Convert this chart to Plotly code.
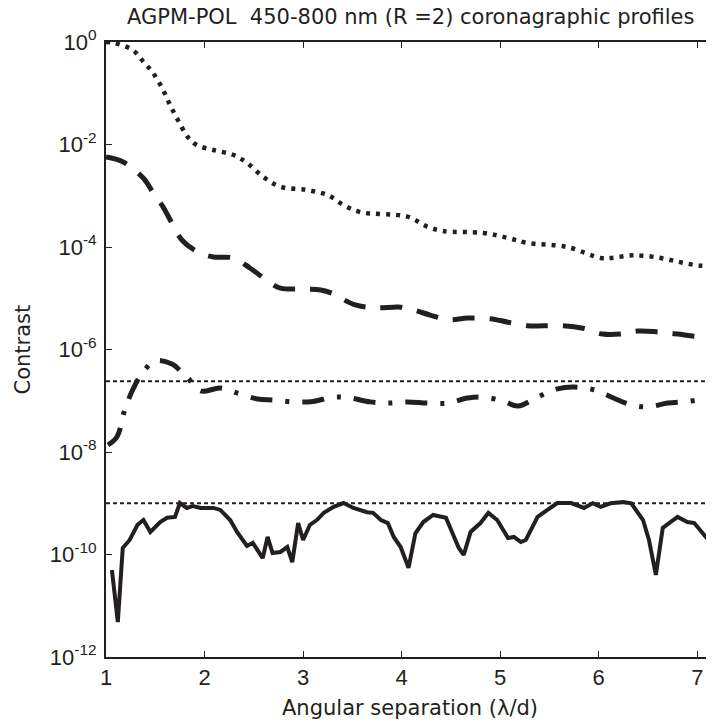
import plotly.graph_objects as go

# ---------------- data ----------------
x_dotted = [1.0, 1.07, 1.27, 1.38, 1.47, 1.57, 1.65, 1.73, 1.83, 1.92, 2.09, 2.29, 2.43,
            2.60, 2.77, 3.04, 3.25, 3.41, 3.58, 4.06, 4.26, 4.42, 4.83, 5.08, 5.28, 5.68,
            6.02, 6.12, 6.36, 6.63, 6.84, 7.04, 7.2]
y_dotted = [1.0, 0.97, 0.70, 0.41, 0.26, 0.126, 0.059, 0.030, 0.014, 0.0098, 0.0078, 0.0063,
            0.0044, 0.0023, 0.0015, 0.0013, 0.00103, 0.00066, 0.00048, 0.00039, 0.00025,
            0.000205, 0.000188, 0.00015, 0.00012, 0.0001, 6.1e-5, 6.1e-5, 6.9e-5, 6.1e-5,
            5.0e-5, 4.3e-5, 4.4e-5]

x_dashed = [1.0, 1.17, 1.38, 1.48, 1.58, 1.67, 1.77, 1.93, 2.09, 2.29, 2.46, 2.64, 2.77,
            3.00, 3.18, 3.31, 3.38, 3.53, 3.65, 3.75, 3.92, 3.99, 4.12, 4.29, 4.47, 4.67,
            4.90, 5.08, 5.28, 5.44, 5.64, 5.84, 6.04, 6.22, 6.40, 6.60, 6.80, 7.0, 7.2]
y_dashed = [5.7e-3, 4.6e-3, 2.2e-3, 1.13e-3, 6.0e-4, 2.9e-4, 1.37e-4, 8.0e-5, 6.4e-5, 6.1e-5,
            3.9e-5, 2.17e-5, 1.58e-5, 1.51e-5, 1.45e-5, 1.21e-5, 1.01e-5, 7.4e-6, 6.7e-6,
            6.5e-6, 6.7e-6, 6.7e-6, 5.9e-6, 4.7e-6, 3.8e-6, 4.1e-6, 4.0e-6, 3.4e-6, 2.9e-6,
            2.9e-6, 2.9e-6, 2.6e-6, 2.0e-6, 2.0e-6, 2.3e-6, 2.2e-6, 2.0e-6, 1.8e-6, 1.9e-6]

x_dashdot = [1.02, 1.11, 1.19, 1.27, 1.37, 1.50, 1.67, 1.77, 1.83, 1.96, 2.16, 2.33, 2.54,
             2.70, 2.90, 3.10, 3.31, 3.48, 3.68, 3.86, 4.06, 4.26, 4.47, 4.67, 4.83, 5.04,
             5.18, 5.38, 5.58, 5.75, 5.95, 6.15, 6.33, 6.50, 6.70, 6.90, 7.09, 7.2]
y_dashdot = [1.37e-8, 1.96e-8, 6.6e-8, 1.62e-7, 3.5e-7, 6.0e-7, 5.2e-7, 3.6e-7, 2.8e-7,
             1.55e-7, 1.77e-7, 1.42e-7, 1.08e-7, 1.03e-7, 9.5e-8, 9.7e-8, 1.18e-7, 1.13e-7,
             9.5e-8, 9.0e-8, 9.5e-8, 9.0e-8, 9.0e-8, 1.13e-7, 1.18e-7, 9.7e-8, 7.9e-8,
             1.18e-7, 1.7e-7, 1.85e-7, 1.64e-7, 1.13e-7, 8.3e-8, 7.6e-8, 9.0e-8, 9.7e-8,
             1.08e-7, 1.1e-7]

x_solid = [1.06, 1.12, 1.17, 1.24, 1.32, 1.38, 1.45, 1.55, 1.62, 1.70, 1.75, 1.82, 1.88,
           1.96, 2.09, 2.16, 2.26, 2.33, 2.43, 2.49, 2.59, 2.64, 2.69, 2.77, 2.84, 2.89,
           2.95, 3.00, 3.07, 3.14, 3.21, 3.31, 3.41, 3.51, 3.65, 3.71, 3.79, 3.86, 3.92,
           3.99, 4.07, 4.14, 4.22, 4.32, 4.45, 4.53, 4.58, 4.63, 4.70, 4.80, 4.88, 4.97,
           5.08, 5.14, 5.21, 5.26, 5.38, 5.48, 5.58, 5.72, 5.85, 5.94, 6.02, 6.12, 6.25,
           6.33, 6.45, 6.51, 6.58, 6.65, 6.80, 6.90, 6.97, 7.07, 7.2]
y_solid = [5.0e-11, 4.8e-12, 1.34e-10, 1.92e-10, 3.8e-10, 4.7e-10, 2.75e-10, 4.3e-10,
           5.2e-10, 5.4e-10, 1.01e-9, 8.1e-10, 8.8e-10, 8.1e-10, 8.1e-10, 7.4e-10, 4.7e-10,
           2.75e-10, 1.47e-10, 1.68e-10, 8.5e-11, 2.2e-10, 1.07e-10, 1.12e-10, 1.4e-10,
           7.1e-11, 4.1e-10, 1.92e-10, 3.8e-10, 4.7e-10, 6.5e-10, 8.5e-10, 1.01e-9, 8.1e-10,
           6.7e-10, 6.5e-10, 4.7e-10, 4.1e-10, 2.2e-10, 1.4e-10, 5.5e-11, 2.6e-10, 4.3e-10,
           5.9e-10, 5.2e-10, 2.2e-10, 1.34e-10, 9.8e-11, 2.75e-10, 4.1e-10, 6.5e-10, 4.7e-10,
           2.1e-10, 2.2e-10, 1.75e-10, 1.92e-10, 5.4e-10, 7.4e-10, 1.01e-9, 1.01e-9, 8.1e-10,
           1.0e-9, 8.5e-10, 1.0e-9, 1.06e-9, 1.0e-9, 4.7e-10, 1.92e-10, 4.0e-11, 3.3e-10,
           5.4e-10, 4.3e-10, 4.1e-10, 2.4e-10, 1.2e-10]

x_limits = [1.0, 7.2]
limit_upper = 2.4e-7
limit_lower = 1.0e-9

y_tickvals = [1e0, 1e-2, 1e-4, 1e-6, 1e-8, 1e-10, 1e-12]
y_ticktext = ["10<sup>0</sup>", "10<sup>-2</sup>", "10<sup>-4</sup>", "10<sup>-6</sup>",
              "10<sup>-8</sup>", "10<sup>-10</sup>", "10<sup>-12</sup>"]
x_tickvals = [1, 2, 3, 4, 5, 6, 7]

title_text = "AGPM-POL  450-800 nm (R =2) coronagraphic profiles"
x_title = "Angular separation (λ/d)"
y_title = "Contrast"

# ---------------- figure ----------------
ink = "#231f20"
text_font = "DejaVu Sans, Liberation Sans, sans-serif"
tick_font = "Liberation Sans, Arial, sans-serif"

fig = go.Figure()

fig.add_trace(go.Scatter(x=x_limits, y=[limit_upper, limit_upper], mode="lines",
                         line=dict(color=ink, width=2, dash="4px,3px"), showlegend=False))
fig.add_trace(go.Scatter(x=x_limits, y=[limit_lower, limit_lower], mode="lines",
                         line=dict(color=ink, width=2, dash="4px,3px"), showlegend=False))
fig.add_trace(go.Scatter(x=x_dotted, y=y_dotted, mode="lines", line_shape="spline",
                         line=dict(color=ink, width=4.5, dash="4px,6px"), showlegend=False))
fig.add_trace(go.Scatter(x=x_dashed, y=y_dashed, mode="lines", line_shape="spline",
                         line=dict(color=ink, width=5, dash="22px,15px"), showlegend=False))
fig.add_trace(go.Scatter(x=x_dashdot, y=y_dashdot, mode="lines", line_shape="spline",
                         line=dict(color=ink, width=5, dash="22px,13px,4px,13px"), showlegend=False))
fig.add_trace(go.Scatter(x=x_solid, y=y_solid, mode="lines",
                         line=dict(color=ink, width=4), showlegend=False))

fig.update_layout(
    width=706, height=714,
    margin=dict(l=98, r=0, t=34, b=65, autoexpand=False),
    paper_bgcolor="white", plot_bgcolor="white",
    font=dict(family=text_font, color=ink),
    showlegend=False,
    annotations=[
        dict(text=title_text, xref="paper", yref="paper", x=0.5, y=1, yshift=25,
             xanchor="center", yanchor="middle", showarrow=False,
             font=dict(size=21, family=text_font, color=ink)),
        dict(text=x_title, xref="paper", yref="paper", x=0.5, y=0, yshift=-51,
             xanchor="center", yanchor="middle", showarrow=False,
             font=dict(size=21, family=text_font, color=ink)),
        dict(text=y_title, xref="paper", yref="paper", x=0, y=0.5, xshift=-84,
             xanchor="center", yanchor="middle", showarrow=False, textangle=-90,
             font=dict(size=21, family=text_font, color=ink)),
    ],
)

fig.update_xaxes(
    range=[1, 7.17], tickvals=x_tickvals, ticks="inside", ticklen=6, tickwidth=1,
    tickcolor=ink, showline=True, linecolor=ink, linewidth=2, mirror="ticks",
    showgrid=False, zeroline=False, automargin=False,
    tickfont=dict(size=22, family=tick_font, color=ink),
)
fig.update_yaxes(
    type="log", range=[-12, 0], tickvals=y_tickvals, ticktext=y_ticktext,
    ticks="inside", ticklen=6, tickwidth=1, tickcolor=ink,
    showline=True, linecolor=ink, linewidth=2, mirror=False,
    showgrid=False, zeroline=False, automargin=False,
    tickfont=dict(size=22, family=tick_font, color=ink), ticklabelstandoff=3,
)

fig.write_html("out.html")
